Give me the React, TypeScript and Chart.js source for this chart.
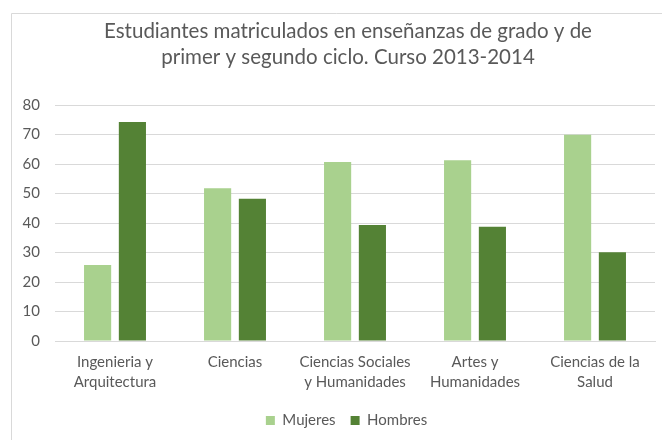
import React, { useEffect, useRef } from "react";
import { Chart, registerables } from "chart.js";

Chart.register(...registerables);

const categories: string[][] = [
  ["Ingenieria y", "Arquitectura"],
  ["Ciencias"],
  ["Ciencias Sociales", "y Humanidades"],
  ["Artes y", "Humanidades"],
  ["Ciencias de la", "Salud"],
];
const mujeres = [25.8, 51.8, 60.7, 61.3, 69.9];
const hombres = [74.2, 48.2, 39.3, 38.7, 30.1];
const titleLines = [
  "Estudiantes matriculados en enseñanzas de grado y de",
  "primer y segundo ciclo. Curso 2013-2014",
];
const FONT = "Lato, 'Open Sans', sans-serif";
const TEXT = "#595959";
const GRID = "#d9d9d9";

const framePlugin = {
  id: "frameAndTitle",
  afterLayout(chart: any) {
    if (chart.legend) {
      chart.legend.left += 9;
      chart.legend.right += 9;
    }
  },
  beforeDraw(chart: any) {
    const ctx = chart.ctx;
    ctx.save();
    ctx.fillStyle = "#ffffff";
    ctx.fillRect(0, 0, chart.width, chart.height);
    ctx.strokeStyle = GRID;
    ctx.lineWidth = 1;
    ctx.beginPath();
    ctx.moveTo(11.5, chart.height);
    ctx.lineTo(11.5, 13.5);
    ctx.lineTo(chart.width, 13.5);
    ctx.stroke();
    ctx.fillStyle = TEXT;
    ctx.font = `20.5px ${FONT}`;
    ctx.textAlign = "center";
    ctx.textBaseline = "middle";
    ctx.fillText(titleLines[0], 348, 31);
    ctx.fillText(titleLines[1], 348, 57);
    ctx.restore();
  },
};

export default function App() {
  const ref = useRef<HTMLCanvasElement | null>(null);
  useEffect(() => {
    if (!ref.current) return;
    const chart = new Chart(ref.current, {
      type: "bar",
      data: {
        labels: categories,
        datasets: [
          {
            label: "Mujeres",
            data: mujeres,
            backgroundColor: "#a9d18e",
            categoryPercentage: 0.58,
            barPercentage: 0.78,
          },
          {
            label: "Hombres",
            data: hombres,
            backgroundColor: "#548235",
            categoryPercentage: 0.58,
            barPercentage: 0.78,
          },
        ],
      },
      options: {
        responsive: false,
        animation: false,
        layout: { padding: { top: 105, right: 7, left: 20, bottom: 2 } },
        plugins: {
          title: { display: false },
          tooltip: { enabled: false },
          legend: {
            position: "bottom",
            labels: {
              color: TEXT,
              font: { family: FONT, size: 15 },
              boxWidth: 9,
              boxHeight: 9,
              padding: 15,
            },
          },
        },
        scales: {
          x: {
            afterFit: (s: any) => {
              s.height = 57;
            },
            grid: { display: false, drawTicks: false },
            border: { display: true, color: GRID },
            ticks: {
              color: TEXT,
              font: { family: FONT, size: 15, lineHeight: 1.333 },
              padding: 11,
              maxRotation: 0,
              autoSkip: false,
            },
          },
          y: {
            min: 0,
            max: 80,
            afterFit: (s: any) => {
              s.width = 35;
            },
            grid: { color: GRID, drawTicks: false },
            border: { display: false },
            ticks: {
              stepSize: 10,
              color: TEXT,
              font: { family: FONT, size: 15 },
              padding: 15,
            },
          },
        },
      },
      plugins: [framePlugin],
    });
    return () => chart.destroy();
  }, []);
  return (
    <div style={{ position: "absolute", left: 0, top: 0, width: 662, height: 440 }}>
      <canvas ref={ref} width={662} height={440} style={{ width: 662, height: 440 }} />
    </div>
  );
}
